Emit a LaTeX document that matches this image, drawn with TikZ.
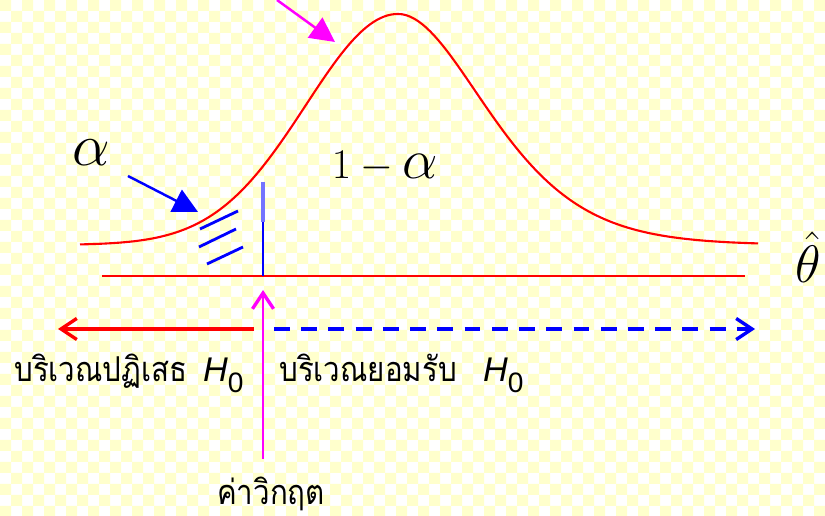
\RequirePackage{fix-cm}
\documentclass[tikz,border=0pt]{standalone}
\usepackage{fontspec}
\newfontfamily\thaifont[Script=Thai, FakeStretch=0.86]{Loma}
\newfontfamily\latinsans{Liberation Sans}
\usetikzlibrary{arrows.meta}
\definecolor{checkyellow}{RGB}{255,255,204}
\definecolor{hotpink}{RGB}{255,0,255}
\newcommand{\hzero}{{\latinsans\itshape H}\raisebox{-0.6ex}{\latinsans\fontsize{16}{18}\selectfont 0}}

\begin{document}
\begin{tikzpicture}[x=0.02cm, y=-0.02cm,
    curveline/.style={red, line width=1.2pt},
    hatch/.style={blue, line width=1.6pt},
    openarrow/.style={line width=1.9pt, -{Straight Barb[length=9pt,width=12pt,line width=1.9pt]}},
    fillarrow/.style={line width=1.4pt, -{Triangle[length=14pt,width=14pt]}},
    thailabel/.style={inner sep=0pt, text=black, font=\thaifont\fontsize{19.5}{23}\selectfont}]
    \useasboundingbox (0,0) rectangle (825,516);
    % checkered background
    \begin{scope}
        \clip (0,0) rectangle (825,516);
        \fill[white] (0,0) rectangle (825,516);
        \fill[checkyellow] \foreach \i in {0,2,...,74} {\foreach \j in {0,2,...,46} {(\i*11,\j*11) rectangle ++(11,11)}};
        \fill[checkyellow] \foreach \i in {1,3,...,75} {\foreach \j in {1,3,...,47} {(\i*11,\j*11) rectangle ++(11,11)}};
    \end{scope}
    % density curve, wider on the right
    \draw[curveline] plot[domain=80:398, samples=90] (\x, {245-231*exp(-0.5*((\x-398)/92)^2)})
        -- plot[domain=398:758, samples=90] (\x, {245-231*exp(-0.5*((\x-398)/(78+0.1*(\x-398)))^2)});
    % axis and critical value
    \coordinate (axisL) at (102,276); \coordinate (axisR) at (745,276);
    \draw[red, line width=1.5pt] (axisL) -- (axisR);
    \coordinate (critT) at (263,182); \coordinate (critM) at (263,222); \coordinate (critB) at (263,276);
    \draw[blue!55, line width=1.9pt] (critT) -- (critM);
    \draw[blue, line width=1.6pt] (critM) -- (critB);
    % tail hatching
    \draw[hatch] (200,229) -- (238,211);
    \draw[hatch] (199,247) -- (236,229);
    \draw[hatch] (207,264) -- (243,247);
    % labels
    \node (alpha) at (91,153) {\fontsize{34}{40}\selectfont$\alpha$};
    \node (oneminus) at (385,167) {\fontsize{24}{28}\selectfont$1-\hbox{\fontsize{32}{36}\selectfont$\alpha$}$};
    \node (thetahat) at (808,257) {\fontsize{30}{34}\selectfont$\hat{\theta}$};
    % pointers
    \coordinate (pinkstart) at (277,0); \coordinate (pinktip) at (335,42);
    \draw[fillarrow, hotpink] (pinkstart) -- (pinktip);
    \coordinate (alphastart) at (128,176); \coordinate (alphatip) at (198,212);
    \draw[fillarrow, blue] (alphastart) -- (alphatip);
    % regions
    \coordinate (rejstart) at (254,329); \coordinate (rejtip) at (58,329);
    \draw[openarrow, red] (rejstart) -- (rejtip);
    \coordinate (accstart) at (274,329); \coordinate (acctip) at (755,329);
    \draw[openarrow, blue, dash pattern=on 9pt off 6.5pt] (accstart) -- (acctip);
    \node[thailabel, anchor=base west] (rejtext) at (14,382) {บริเวณปฏิเสธ\hspace{9pt}\hzero};
    \node[thailabel, anchor=base west] (acctext) at (279,382) {บริเวณยอมรับ\hspace{15pt}\hzero};
    % critical value pointer
    \node[thailabel, anchor=base] (crittext) at (271,505) {ค่าวิกฤต};
    \coordinate (critlow) at (263,459); \coordinate (crittip) at (263,290);
    \draw[openarrow, hotpink, line width=1.6pt] (critlow) -- (crittip);
\end{tikzpicture}
\end{document}
